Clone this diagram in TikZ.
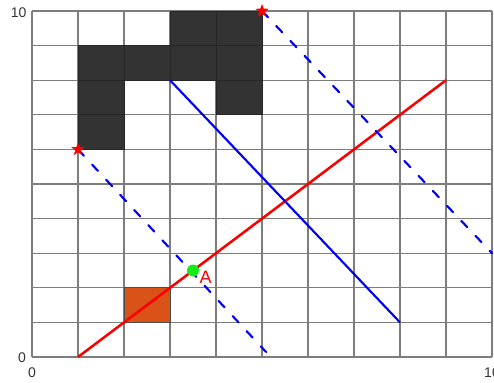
\documentclass[tikz,border=0pt]{standalone}
\usepackage{fontspec}
\setmainfont{Liberation Sans}
\usetikzlibrary{shapes.geometric}
\definecolor{gridgray}{RGB}{125,125,125}
\definecolor{darkcell}{RGB}{51,51,51}
\definecolor{orangecell}{RGB}{217,83,25}
\definecolor{ptgreen}{RGB}{20,235,20}
\definecolor{lineblue}{RGB}{0,0,245}
\definecolor{linered}{RGB}{250,0,0}
\begin{document}
\begin{tikzpicture}[x=34.5pt,y=25.95pt,
  gridline/.style={draw=gridgray,line width=0.85pt},
  obstacle/.style={fill=darkcell,draw=black!85,line width=0.7pt},
  goalcell/.style={fill=orangecell,draw=black!70,line width=0.7pt},
  redline/.style={draw=linered,line width=1.9pt},
  blueline/.style={draw=lineblue,line width=1.6pt},
  bluedash/.style={draw=lineblue,line width=1.6pt,line cap=round,dash pattern=on 6.5pt off 9pt},
  starmark/.style={star,star points=5,star point ratio=2.4,fill=linered,draw=none,minimum size=10.5pt,inner sep=0pt},
  ticklabel/.style={font=\fontsize{10.5}{12}\selectfont,text=black!80,inner sep=0pt}
]
\useasboundingbox (-0.696,-0.7225) rectangle (10.043,10.318);
% grid
\foreach \i in {0,...,10} {
  \draw[gridline] (\i,0) -- (\i,10);
  \draw[gridline] (0,\i) -- (10,\i);
}
% obstacles
\foreach \cx/\cy in {1/6,1/7,1/8,2/8,3/8,4/8,3/9,4/9,4/7} {
  \draw[obstacle] (\cx,\cy) rectangle ++(1,1);
}
% goal cell
\draw[goalcell] (2,1) rectangle (3,2);
% coordinates
\coordinate (r0) at (1,0);
\coordinate (r1) at (9,8);
\coordinate (b0) at (3,8);
\coordinate (b1) at (8,1);
\coordinate (d0) at (1,6);
\coordinate (d1) at (5.087,0.145);
\coordinate (e0) at (5,10);
\coordinate (e1) at (10,3);
% lines
\draw[redline] (r0) -- (r1);
\draw[blueline] (b0) -- (b1);
\draw[bluedash] (d0) -- (d1);
\draw[bluedash] (e0) -- (e1);
% point A
\node[circle,fill=ptgreen,minimum size=9pt,inner sep=0pt] (A) at (3.5,2.5) {};
\node[text=linered,font=\fontsize{13.5}{15}\selectfont,inner sep=0pt] (Alab) at (3.772,2.298) {A};
% stars
\node[starmark] (s1) at (d0) {};
\node[starmark] (s2) at (e0) {};
% tick labels
\node[ticklabel] (ly10) at (-0.293,9.94) {10};
\node[ticklabel] (ly0) at (-0.217,-0.03) {0};
\node[ticklabel] (lx0) at (0,-0.462) {0};
\node[ticklabel] (lx10) at (10,-0.462) {10};
\end{tikzpicture}
\end{document}
